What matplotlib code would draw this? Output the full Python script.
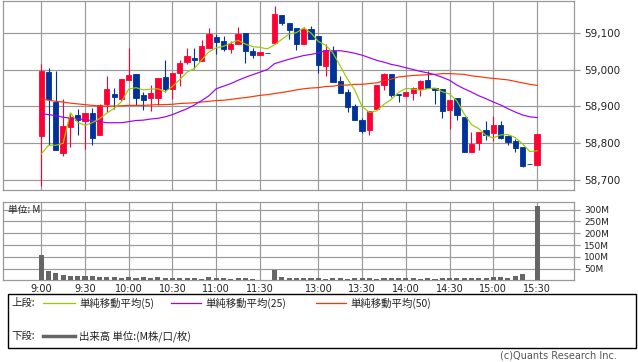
import numpy as np
import matplotlib.pyplot as plt
from matplotlib.lines import Line2D
from matplotlib.patches import Rectangle
from matplotlib.ticker import FuncFormatter

# 5-minute candles, 9:00 .. 15:30 (index 31 is the lunch-break bar)
opens = [58820, 58993, 58913, 58775, 58845, 58876, 58861, 58882, 58823, 58907,
         58933, 58920, 58971, 58987, 58930, 58923, 58923, 58979, 58948, 58990,
         59020, 59030, 59022, 59058, 59087, 59076, 59056, 59069, 59098, 59050,
         59040, 59046, 59072, 59147, 59125, 59112, 59068, 59109, 59090, 59010,
         59050, 58968, 58939, 58901, 58863, 58837, 58894, 58958, 58987, 58935,
         58929, 58937, 58948, 58971, 58950, 58946, 58891, 58922, 58872, 58777,
         58802, 58836, 58829, 58849, 58820, 58806, 58790, 58743, 58742]
highs = [59014, 59003, 58995, 58920, 58883, 58893, 58882, 58897, 58908, 58982,
         58949, 58974, 59058, 58987, 58938, 58957, 58976, 59025, 58990, 59027,
         59058, 59058, 59079, 59113, 59096, 59090, 59077, 59115, 59098, 59058,
         59047, 59046, 59171, 59147, 59125, 59112, 59115, 59118, 59090, 59070,
         59063, 58982, 58946, 58908, 58870, 58887, 58958, 58991, 58987, 58935,
         58939, 58953, 58971, 58995, 58950, 58946, 58917, 58922, 58872, 58830,
         58830, 58860, 58875, 58861, 58824, 58811, 58790, 58743, 58825]
lows = [58685, 58795, 58783, 58766, 58791, 58823, 58785, 58796, 58823, 58885,
        58893, 58914, 58971, 58903, 58890, 58888, 58903, 58940, 58919, 58956,
        59015, 59001, 59022, 59058, 59043, 59050, 59044, 59069, 59018, 59031,
        59040, 59046, 59072, 59120, 59083, 59053, 59068, 59083, 58991, 58983,
        58966, 58937, 58885, 58864, 58827, 58822, 58894, 58945, 58925, 58912,
        58929, 58918, 58928, 58950, 58907, 58869, 58838, 58863, 58777, 58777,
        58783, 58810, 58807, 58813, 58796, 58776, 58737, 58743, 58742]
closes = [58995, 58919, 58783, 58847, 58872, 58863, 58882, 58815, 58903, 58947,
          58926, 58974, 58985, 58923, 58918, 58936, 58976, 58948, 58990, 59017,
          59036, 59026, 59063, 59096, 59075, 59057, 59069, 59096, 59050, 59040,
          59047, 59046, 59151, 59126, 59108, 59069, 59110, 59083, 59012, 59054,
          58966, 58937, 58899, 58864, 58834, 58887, 58958, 58987, 58930, 58930,
          58939, 58950, 58969, 58950, 58944, 58888, 58917, 58876, 58777, 58798,
          58830, 58823, 58849, 58815, 58804, 58788, 58740, 58743, 58825]

sma5 = [58771, 58795, 58795, 58800, 58883, 58857, 58849, 58856, 58867, 58882,
        58895, 58913, 58947, 58951, 58945, 58947, 58948, 58940, 58954, 58973,
        58993, 59003, 59026, 59048, 59059, 59063, 59072, 59079, 59069, 59062,
        59060, 59056, 59067, 59082, 59096, 59100, 59113, 59099, 59076, 59066,
        59045, 59010, 58974, 58944, 58900, 58884, 58888, 58906, 58919, 58938,
        58949, 58947, 58944, 58948, 58950, 58940, 58934, 58915, 58880, 58851,
        58840, 58821, 58815, 58823, 58824, 58816, 58799, 58778, 58780]
sma25 = [58881, 58878, 58875, 58871, 58868, 58867, 58864, 58862, 58859, 58856,
         58856, 58856, 58859, 58862, 58863, 58866, 58868, 58872, 58878, 58886,
         58894, 58904, 58916, 58929, 58948, 58955, 58962, 58971, 58979, 58986,
         58993, 59000, 59016, 59022, 59028, 59033, 59038, 59041, 59045, 59051,
         59051, 59051, 59048, 59044, 59039, 59032, 59025, 59020, 59014, 59010,
         59005, 59000, 58995, 58991, 58986, 58979, 58971, 58958, 58948, 58939,
         58929, 58921, 58912, 58904, 58894, 58885, 58877, 58872, 58870]
sma50 = [58920, 58917, 58914, 58912, 58909, 58907, 58905, 58903, 58901, 58901,
         58901, 58902, 58903, 58903, 58903, 58904, 58905, 58905, 58906, 58908,
         58909, 58910, 58912, 58914, 58916, 58917, 58919, 58922, 58924, 58927,
         58930, 58932, 58935, 58938, 58941, 58945, 58948, 58950, 58951, 58954,
         58955, 58958, 58958, 58960, 58960, 58962, 58964, 58970, 58974, 58980,
         58982, 58984, 58985, 58986, 58987, 58989, 58989, 58988, 58987, 58983,
         58981, 58978, 58976, 58974, 58972, 58968, 58964, 58960, 58957]

# volume in millions
volume = [108, 39, 31, 22, 18, 18, 18, 18, 14, 14,
          14, 10, 14, 10, 14, 10, 14, 10, 10, 10,
          10, 10, 6, 14, 10, 10, 6, 10, 10, 6,
          2, 0, 44, 14, 10, 10, 10, 10, 10, 6,
          10, 10, 6, 10, 10, 10, 6, 10, 10, 10,
          10, 10, 6, 10, 6, 10, 10, 10, 10, 10,
          10, 10, 14, 14, 10, 18, 27, 1, 314]

tick_pos = [0, 6, 12, 18, 24, 30, 38, 44, 50, 56, 62, 68]
tick_labels = ["9:00", "9:30", "10:00", "10:30", "11:00", "11:30",
               "13:00", "13:30", "14:00", "14:30", "15:00", "15:30"]
price_ticks = [58700, 58800, 58900, 59000, 59100]
vol_ticks = [50, 100, 150, 200, 250, 300]

UP = "#ff0033"
DOWN = "#003399"
GRID = "#999999"
JP = ["Noto Sans CJK JP", "DejaVu Sans"]

W, H = 638, 362
fig = plt.figure(figsize=(W / 100, H / 100), dpi=100)


def px_box(x0, y0, x1, y1):
    return [x0 / W, 1 - y1 / H, (x1 - x0) / W, (y1 - y0) / H]


def fx(x):
    return x / W


def fy(y):
    return 1 - y / H


ax = fig.add_axes(px_box(3.3, 0.5, 574.3, 190.3))
axv = fig.add_axes(px_box(3.3, 201.7, 574.3, 280.3))

x = np.arange(len(opens))
o = np.array(opens)
c = np.array(closes)
cols = np.where(c > o, UP, DOWN)

ax.vlines(x, lows, highs, colors=cols, lw=0.8, zorder=2)
ax.bar(x, np.abs(c - o), bottom=np.minimum(o, c), width=0.72,
       color=cols, edgecolor=cols, linewidth=0.6, zorder=3)
ax.plot(x, sma50, color="#ff3300", lw=0.85, zorder=4)
ax.plot(x, sma25, color="#9900ff", lw=0.85, zorder=4)
ax.plot(x, sma5, color="#99cc00", lw=0.85, zorder=5)

for a in (ax, axv):
    a.set_xlim(-5.2, 73.1)
    a.set_xticks(tick_pos)
    a.grid(True, color=GRID, lw=0.85)
    a.set_axisbelow(True)
    for s in a.spines.values():
        s.set_color(GRID)
        s.set_linewidth(0.9)
    a.yaxis.tick_right()
    a.tick_params(axis="y", colors=GRID, length=4, width=0.85, pad=3,
                  labelcolor="#222222")

ax.set_ylim(58673, 59187)
ax.set_yticks(price_ticks)
ax.yaxis.set_major_formatter(FuncFormatter(lambda v, p: f"{v:,.0f}"))
ax.tick_params(axis="y", labelsize=7.5)
ax.tick_params(axis="x", length=0, labelbottom=False)

axv.bar(x, volume, width=0.7, color="#666666", zorder=3)
axv.set_ylim(0, 334)
axv.set_yticks(vol_ticks)
axv.set_yticklabels([f"{v}M" for v in vol_ticks])
axv.tick_params(axis="y", labelsize=6.5)
axv.set_xticklabels(tick_labels)
axv.tick_params(axis="x", length=0, pad=2.5, labelsize=7, labelcolor="#222222")
axv.text(fx(8), fy(210), "単位: M", transform=fig.transFigure, family=JP,
         fontsize=7, va="center", ha="left", color="#222222")

# legend box
fig.add_artist(Rectangle((fx(8), fy(348)), fx(628), 54 / H, fill=False,
                         edgecolor="black", lw=1, transform=fig.transFigure))
row1, row2 = 303, 336
fig.text(fx(11), fy(row1), "上段:", family=JP, fontsize=7.5, va="center", color="#222222")
legend_items = [(43, 75, "#99cc00", "単純移動平均(5)"),
                (171, 201, "#9900ff", "単純移動平均(25)"),
                (316, 346, "#ff3300", "単純移動平均(50)")]
for x0, x1, col, lab in legend_items:
    fig.add_artist(Line2D([fx(x0), fx(x1)], [fy(row1), fy(row1)], color=col, lw=0.9,
                          transform=fig.transFigure))
    fig.text(fx(x1 + 4), fy(row1), lab, family=JP, fontsize=7.5, va="center", color="#222222")
fig.text(fx(11), fy(row2), "下段:", family=JP, fontsize=7.5, va="center", color="#222222")
fig.add_artist(Line2D([fx(43), fx(75)], [fy(row2), fy(row2)], color="#666666", lw=2.5,
                      transform=fig.transFigure))
fig.text(fx(79), fy(row2), "出来高 単位:(M株/口/枚)", family=JP, fontsize=7.5,
         va="center", color="#222222")

fig.text(fx(617), fy(356), "(c)Quants Research Inc.", fontsize=7, ha="right",
         va="center", color="#555555")

fig.savefig("out.png", dpi=100)
